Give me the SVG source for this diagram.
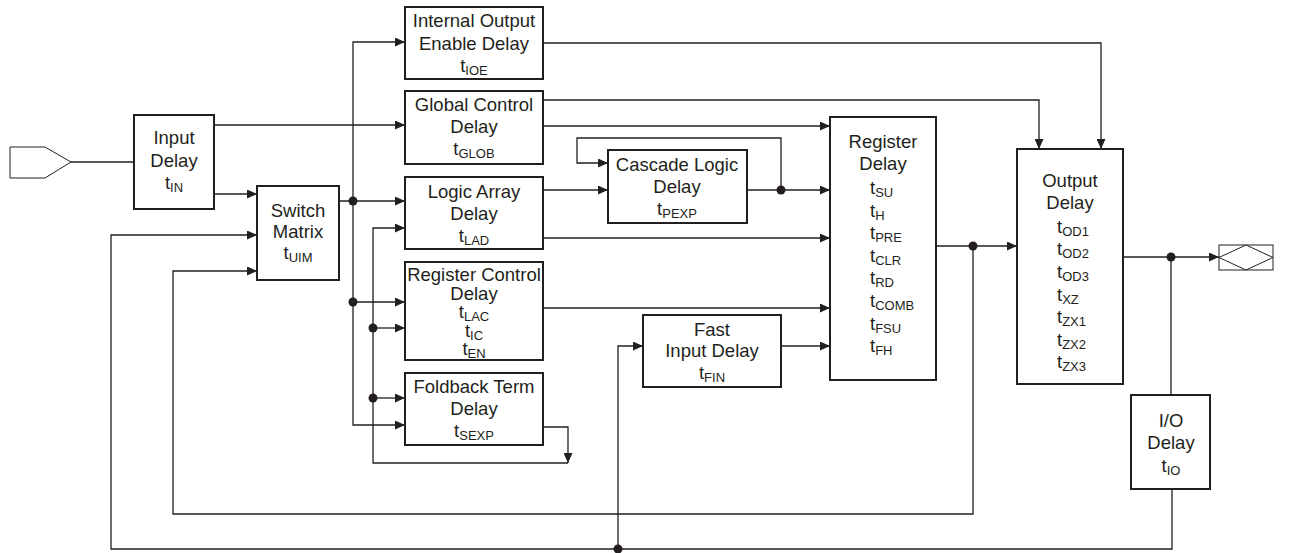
<svg xmlns="http://www.w3.org/2000/svg" width="1304" height="553" viewBox="0 0 1304 553">
<style>
.box{fill:#fff;stroke:#231f20;stroke-width:2}
.ln{fill:none;stroke:#231f20;stroke-width:1.3}
.ar{marker-end:url(#arrow)}
.dot{fill:#231f20}
text{font-family:"Liberation Sans",Arial,sans-serif;font-size:18.5px;fill:#231f20}
.c{text-anchor:middle}
.s{font-size:13px}
.pad{fill:#fff;stroke:#231f20;stroke-width:1}
</style>
<defs>
<marker id="arrow" markerUnits="userSpaceOnUse" markerWidth="11" markerHeight="9" refX="10" refY="4.5" orient="auto">
<path d="M0,0 L10,4.5 L0,9 z" fill="#231f20"/>
</marker>
</defs>
<g id="connectors">
<path class="ln" d="M71,162 H134"/>
<path class="ln ar" d="M214,125 H405"/>
<path class="ln ar" d="M214,194 H257"/>
<path class="ln ar" d="M339,201 H405"/>
<path class="ln ar" d="M353,201 V42 H405"/>
<path class="ln ar" d="M353,201 V425 H405"/>
<path class="ln ar" d="M353,302 H405"/>
<path class="ln ar" d="M568,463 H373 V228 H405"/>
<path class="ln ar" d="M373,328 H405"/>
<path class="ln ar" d="M373,398 H405"/>
<path class="ln ar" d="M543,427 H568 V463"/>
<path class="ln ar" d="M543,43 H1101 V149"/>
<path class="ln ar" d="M543,100 H1039 V149"/>
<path class="ln ar" d="M543,126 H830"/>
<path class="ln ar" d="M543,190 H608"/>
<path class="ln ar" d="M747,190 H830"/>
<path class="ln ar" d="M781,190 V138 H577 V163 H608"/>
<path class="ln ar" d="M543,238 H830"/>
<path class="ln ar" d="M543,308 H830"/>
<path class="ln ar" d="M781,346 H830"/>
<path class="ln ar" d="M618,549 V346 H643"/>
<path class="ln ar" d="M936,246 H1017"/>
<path class="ln ar" d="M973,246 V514 H173 V271 H257"/>
<path class="ln ar" d="M1123,257 H1219"/>
<path class="ln" d="M1171,257 V395"/>
<path class="ln ar" d="M1172,489 V549 H111 V235 H257"/>
<circle class="dot" cx="353" cy="201" r="4.5"/>
<circle class="dot" cx="353" cy="302" r="4.5"/>
<circle class="dot" cx="373" cy="328" r="4.5"/>
<circle class="dot" cx="373" cy="398" r="4.5"/>
<circle class="dot" cx="781" cy="190" r="4.5"/>
<circle class="dot" cx="973" cy="246" r="4.5"/>
<circle class="dot" cx="1171" cy="257" r="4.5"/>
<circle class="dot" cx="618" cy="549" r="4.5"/>
</g>
<g id="input-pad">
<path class="pad" d="M10,147 H45 L71,162 L45,178 H10 Z"/>
</g>
<g id="output-pad">
<rect class="pad" x="1219" y="245" width="54" height="25"/>
<path class="pad" d="M1219,257.5 L1246,245 L1273,257.5 L1246,270 Z"/>
</g>
<g id="input-delay">
<rect class="box" x="134" y="115" width="80" height="94"/>
<text class="c" x="174" y="144">Input</text>
<text class="c" x="174" y="167">Delay</text>
<text class="c" x="174" y="189">t<tspan class="s" dy="3">IN</tspan></text>
</g>
<g id="switch-matrix">
<rect class="box" x="257" y="186" width="82" height="94"/>
<text class="c" x="298" y="217">Switch</text>
<text class="c" x="298" y="238">Matrix</text>
<text class="c" x="298" y="259">t<tspan class="s" dy="3">UIM</tspan></text>
</g>
<g id="ioe-delay">
<rect class="box" x="405" y="7" width="138" height="72"/>
<text class="c" x="474" y="27">Internal Output</text>
<text class="c" x="474" y="50">Enable Delay</text>
<text class="c" x="474" y="72">t<tspan class="s" dy="3">IOE</tspan></text>
</g>
<g id="global-control-delay">
<rect class="box" x="405" y="91" width="138" height="73"/>
<text class="c" x="474" y="111">Global Control</text>
<text class="c" x="474" y="133">Delay</text>
<text class="c" x="474" y="155">t<tspan class="s" dy="3">GLOB</tspan></text>
</g>
<g id="logic-array-delay">
<rect class="box" x="405" y="177" width="138" height="72"/>
<text class="c" x="474" y="198">Logic Array</text>
<text class="c" x="474" y="220">Delay</text>
<text class="c" x="474" y="242">t<tspan class="s" dy="3">LAD</tspan></text>
</g>
<g id="register-control-delay">
<rect class="box" x="405" y="262" width="138" height="98"/>
<text class="c" x="474" y="281">Register Control</text>
<text class="c" x="474" y="300">Delay</text>
<text class="c" x="474" y="318">t<tspan class="s" dy="3">LAC</tspan></text>
<text class="c" x="474" y="337">t<tspan class="s" dy="3">IC</tspan></text>
<text class="c" x="474" y="355">t<tspan class="s" dy="3">EN</tspan></text>
</g>
<g id="foldback-term-delay">
<rect class="box" x="405" y="373" width="138" height="72"/>
<text class="c" x="474" y="393">Foldback Term</text>
<text class="c" x="474" y="415">Delay</text>
<text class="c" x="474" y="437">t<tspan class="s" dy="3">SEXP</tspan></text>
</g>
<g id="cascade-logic-delay">
<rect class="box" x="608" y="150" width="139" height="73"/>
<text class="c" x="677" y="171">Cascade Logic</text>
<text class="c" x="677" y="193">Delay</text>
<text class="c" x="677" y="215">t<tspan class="s" dy="3">PEXP</tspan></text>
</g>
<g id="fast-input-delay">
<rect class="box" x="643" y="315" width="138" height="72"/>
<text class="c" x="712" y="336">Fast</text>
<text class="c" x="712" y="357">Input Delay</text>
<text class="c" x="712" y="379">t<tspan class="s" dy="3">FIN</tspan></text>
</g>
<g id="register-delay">
<rect class="box" x="830" y="117" width="106" height="263"/>
<text class="c" x="883" y="148">Register</text>
<text class="c" x="883" y="170">Delay</text>
<text x="870" y="194">t<tspan class="s" dy="3">SU</tspan></text>
<text x="870" y="217">t<tspan class="s" dy="3">H</tspan></text>
<text x="870" y="239">t<tspan class="s" dy="3">PRE</tspan></text>
<text x="870" y="262">t<tspan class="s" dy="3">CLR</tspan></text>
<text x="870" y="284">t<tspan class="s" dy="3">RD</tspan></text>
<text x="870" y="307">t<tspan class="s" dy="3">COMB</tspan></text>
<text x="870" y="330">t<tspan class="s" dy="3">FSU</tspan></text>
<text x="870" y="352">t<tspan class="s" dy="3">FH</tspan></text>
</g>
<g id="output-delay">
<rect class="box" x="1017" y="149" width="106" height="235"/>
<text class="c" x="1070" y="187">Output</text>
<text class="c" x="1070" y="209">Delay</text>
<text x="1057" y="233">t<tspan class="s" dy="3">OD1</tspan></text>
<text x="1057" y="255">t<tspan class="s" dy="3">OD2</tspan></text>
<text x="1057" y="278">t<tspan class="s" dy="3">OD3</tspan></text>
<text x="1057" y="301">t<tspan class="s" dy="3">XZ</tspan></text>
<text x="1057" y="323">t<tspan class="s" dy="3">ZX1</tspan></text>
<text x="1057" y="346">t<tspan class="s" dy="3">ZX2</tspan></text>
<text x="1057" y="368">t<tspan class="s" dy="3">ZX3</tspan></text>
</g>
<g id="io-delay">
<rect class="box" x="1131" y="395" width="79" height="94"/>
<text class="c" x="1171" y="427">I/O</text>
<text class="c" x="1171" y="449">Delay</text>
<text class="c" x="1171" y="472">t<tspan class="s" dy="3">IO</tspan></text>
</g>
</svg>
